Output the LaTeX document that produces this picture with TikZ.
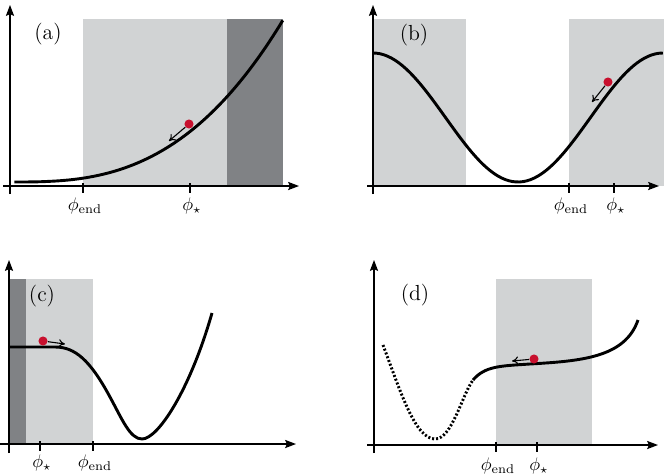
\documentclass[tikz,border=0pt]{standalone}
\usetikzlibrary{arrows.meta}
\definecolor{lightband}{RGB}{209,211,212}
\definecolor{darkband}{RGB}{128,130,133}
\definecolor{ballred}{RGB}{200,16,46}
\tikzset{
  axis/.style={line width=0.7pt,-{Stealth[length=6pt,width=4.5pt,inset=1pt]}},
  potential/.style={line width=1.6pt},
  tickmark/.style={line width=0.7pt},
  tag/.style={font=\large},
  ball/.style={circle,fill=ballred,inner sep=0pt,minimum size=5pt},
  kick/.style={line width=0.6pt,-{To[length=3.5pt,width=4.5pt]}},
}
\begin{document}
\begin{tikzpicture}[x=0.55pt,y=-0.55pt]
\useasboundingbox (0,0) rectangle (664,474);
% (a) bands
\fill [lightband] (83,19) rectangle (227,186);
\fill [darkband] (227,19) rectangle (283,186);
% (a) axes and ticks
\draw [axis] (10,194) -- (10,5);
\draw [axis] (3,186) -- (299,186);
\draw [tickmark] (83,183) -- (83,193);
\draw [tickmark] (190,183) -- (190,193);
% (a) potential
\draw [potential] plot [domain=0.001:1,samples=80] ({14+269*\x},{182-162*(\x)^2.75});
% (a) labels
\node [tag] (taga) at (48,34) {(a)};
\node (enda) at (85,206) {$\phi_{\rm end}$};
\node (stara) at (192,206) {$\phi_\star$};
% (a) ball
\node [ball] (balla) at (189,124) {};
\coordinate (kicka) at (169,141);
\draw [kick] (balla) -- (kicka);
% (b) bands
\fill [lightband] (373,19) rectangle (466,186);
\fill [lightband] (569,19) rectangle (664,186);
% (b) axes and ticks
\draw [axis] (373,194) -- (373,5);
\draw [axis] (367,186) -- (659,186);
\draw [tickmark] (569,183) -- (569,193);
\draw [tickmark] (614,183) -- (614,193);
% (b) potential
\draw [potential] plot [domain=0:1,samples=80] ({373+290*\x},{117.5-64.5*cos(360*\x)});
% (b) labels
\node [tag] (tagb) at (414,35) {(b)};
\node (endb) at (571,206) {$\phi_{\rm end}$};
\node (starb) at (616,206) {$\phi_\star$};
% (b) ball
\node [ball] (ballb) at (608,82) {};
\coordinate (kickb) at (592,102);
\draw [kick] (ballb) -- (kickb);
% (c) bands
\fill [darkband] (9,279) rectangle (26,444);
\fill [lightband] (26,279) rectangle (93,444);
% (c) axes and ticks
\draw [axis] (9,453) -- (9,260);
\draw [axis] (0,444) -- (296,444);
\draw [tickmark] (40,441) -- (40,451);
\draw [tickmark] (93,441) -- (93,451);
% (c) potential
\draw [potential] (9,347) -- (55,347) .. controls (75,347) and (90,360) .. (110,397)
  .. controls (122,419) and (130,439) .. (142,439)
  .. controls (158,439) and (190,390) .. (212,313);
% (c) labels
\node [tag] (tagc) at (42,296) {(c)};
\node (starc) at (42,463) {$\phi_\star$};
\node (endc) at (95,463) {$\phi_{\rm end}$};
% (c) ball
\node [ball] (ballc) at (43,341) {};
\coordinate (kickc) at (65,344);
\draw [kick] (ballc) -- (kickc);
% (d) band
\fill [lightband] (496,279) rectangle (592,445);
% (d) axes and ticks
\draw [axis] (374,453) -- (374,260);
\draw [axis] (367,445) -- (658,445);
\draw [tickmark] (496,442) -- (496,452);
\draw [tickmark] (537,442) -- (537,452);
% (d) potential, dotted valley then plateau
\draw [potential,dash pattern=on 1.1pt off 1.1pt] (383,345) .. controls (400,390) and (415,439) .. (435,439)
  .. controls (452,439) and (462,395) .. (473,380);
\draw [potential] (473,380) .. controls (485,366) and (500,366) .. (530,364)
  .. controls (580,361) and (625,358) .. (638,320);
% (d) labels
\node [tag] (tagd) at (415,295) {(d)};
\node (endd) at (498,466) {$\phi_{\rm end}$};
\node (stard) at (539,466) {$\phi_\star$};
% (d) ball
\node [ball] (balld) at (534,359) {};
\coordinate (kickd) at (512,361);
\draw [kick] (balld) -- (kickd);
\end{tikzpicture}
\end{document}
